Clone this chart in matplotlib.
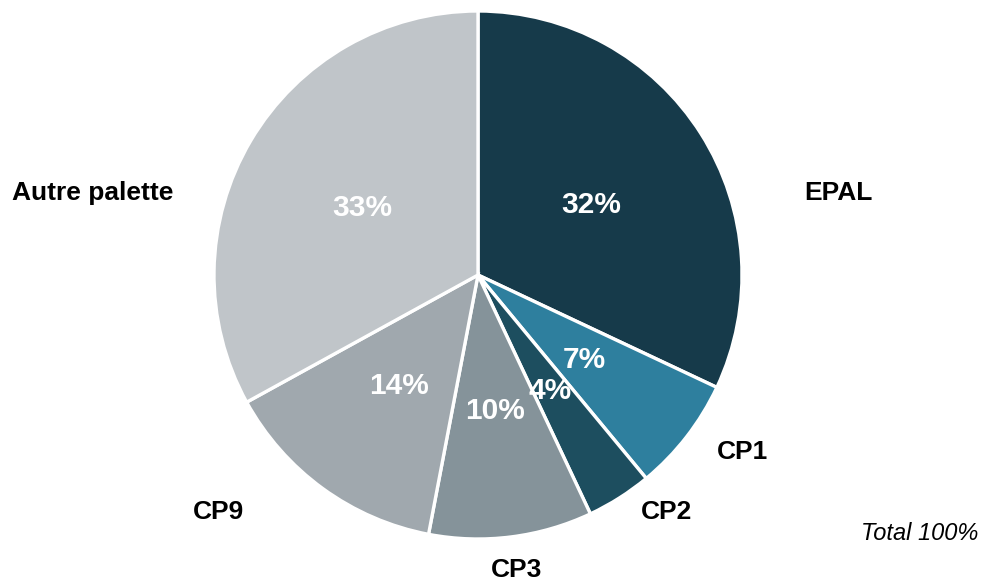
import matplotlib
matplotlib.use("Agg")
import matplotlib.pyplot as plt
import numpy as np

# Slice data (clockwise from 12 o'clock)
labels = ["EPAL", "CP1", "CP2", "CP3", "CP9", "Autre palette"]
shares = [32, 7, 4, 10, 14, 33]
colors = ["#163a4a", "#2e7f9e", "#1d4e5f", "#85939a", "#a0a8ae", "#c0c5c9"]

# Outside label positions (pixels from top-left)
label_pos = [(838, 193), (742, 452), (667, 512), (517, 570), (219, 512), (93, 193)]

plt.rcParams["font.family"] = ["Liberation Sans", "DejaVu Sans"]

W, H = 984, 581
cx, cy, r = 478, H - 275, 264

fig = plt.figure(figsize=(W / 100, H / 100), dpi=100)
ax = fig.add_axes([0, 0, 1, 1])

ax.pie(
    shares,
    colors=colors,
    startangle=90,
    counterclock=False,
    center=(cx, cy),
    radius=r,
    wedgeprops=dict(edgecolor="white", linewidth=2.4),
    frame=True,
)
ax.set_xlim(0, W)
ax.set_ylim(0, H)
ax.set_aspect("equal")
ax.axis("off")

# percentage labels inside slices
start = 90.0
for s in shares:
    mid = np.deg2rad(start - s * 3.6 / 2)
    start -= s * 3.6
    x = cx + 0.51 * r * np.cos(mid)
    y = cy + 0.51 * r * np.sin(mid) - 2
    ax.text(x, y, f"{s}%", ha="center", va="center", color="white",
            fontsize=21.5, fontweight="bold")

for lab, (x, y) in zip(labels, label_pos):
    ax.text(x, H - y, lab, ha="center", va="center", fontsize=19,
            fontweight="bold", color="black")

ax.text(978, H - 533, "Total 100%", ha="right", va="center", fontsize=17,
        style="italic", color="black")

fig.savefig("out.png", dpi=100)
